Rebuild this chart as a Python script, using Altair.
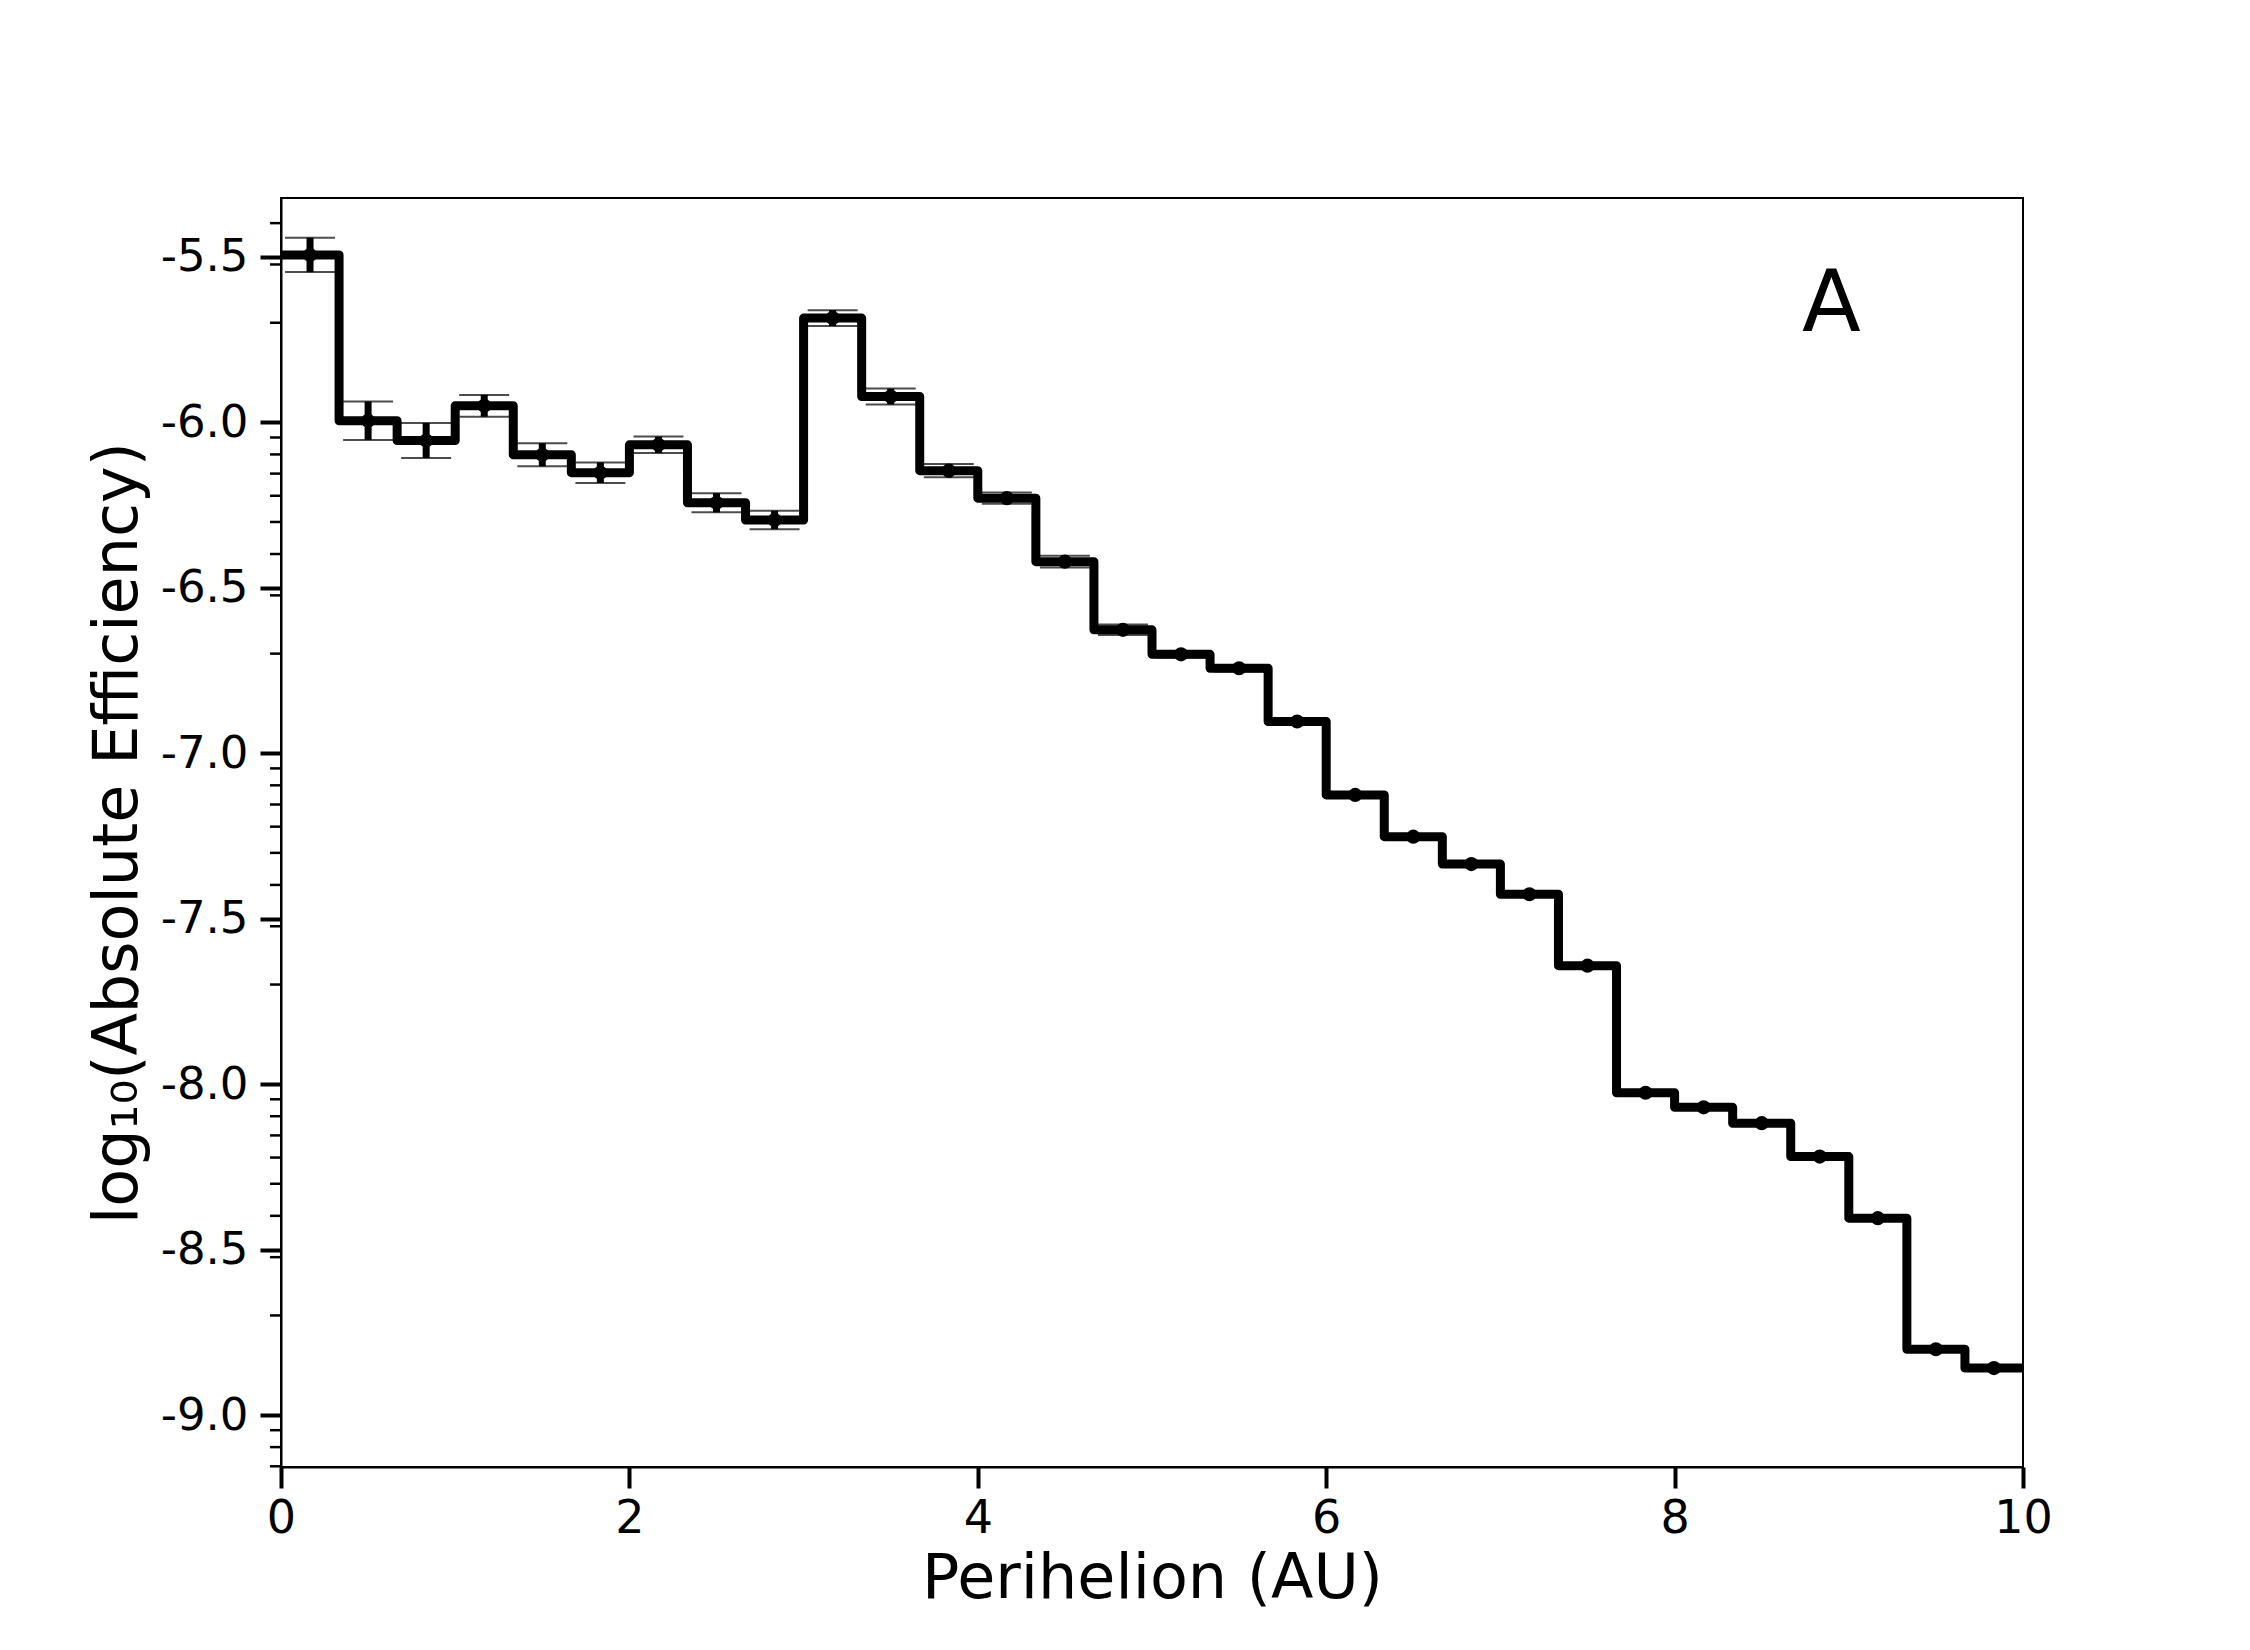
import math
import altair as alt
import pandas as pd

# ---- data ----
n_bins = 30
x_min, x_max = 0.0, 10.0
log_eff = [-5.494, -5.995, -6.055, -5.950, -6.098, -6.152, -6.068, -6.243, -6.295, -5.685,
           -5.922, -6.146, -6.229, -6.421, -6.627, -6.701, -6.743, -6.904, -7.126, -7.252,
           -7.335, -7.426, -7.642, -8.026, -8.070, -8.118, -8.219, -8.405, -8.801, -8.858]
err = [0.052, 0.058, 0.053, 0.033, 0.035, 0.031, 0.025, 0.029, 0.028, 0.024,
       0.024, 0.020, 0.017, 0.018, 0.016, 0.010, 0.010, 0.009, 0.008, 0.008,
       0.008, 0.007, 0.007, 0.006, 0.006, 0.006, 0.006, 0.006, 0.006, 0.006]
x_ticks = [0, 2, 4, 6, 8, 10]
y_ticks = [-9.0, -8.5, -8.0, -7.5, -7.0, -6.5, -6.0, -5.5]
y_domain = [-9.157, -5.322]
panel_label = ["A"]
panel_label_x = [8.9]
panel_label_y = [-5.645]

FONT = "DejaVu Sans"

# ---- tables ----
w = (x_max - x_min) / n_bins
edges = [x_min + i * w for i in range(n_bins + 1)]
step_df = pd.DataFrame({"x": edges, "y": log_eff + [log_eff[-1]]})
pts_df = pd.DataFrame({
    "x": [x_min + (i + 0.5) * w for i in range(n_bins)],
    "y": log_eff,
    "lo": [v - e for v, e in zip(log_eff, err)],
    "hi": [v + e for v, e in zip(log_eff, err)],
})
minor = []
for dec in range(-10, -4):
    for k in range(2, 10):
        v = dec + math.log10(k)
        if y_domain[0] < v < y_domain[1]:
            minor.append(v)
minor_df = pd.DataFrame({"t": minor})
lab_df = pd.DataFrame({"x": panel_label_x, "y": panel_label_y, "t": panel_label})

xscale = alt.Scale(domain=[x_min, x_max], nice=False, zero=False)
yscale = alt.Scale(domain=y_domain, nice=False, zero=False)

xaxis = alt.Axis(values=x_ticks, title="Perihelion (AU)", grid=False, format="d",
                 tickSize=21, tickWidth=4, tickColor="black", domainColor="black", domainWidth=2,
                 labelFontSize=46, labelFont=FONT, labelColor="black", labelPadding=8,
                 labelFlush=False,
                 titleFontSize=62, titleFont=FONT, titleFontWeight="normal", titleColor="black",
                 titlePadding=7)
yaxis = alt.Axis(values=y_ticks, title="log₁₀(Absolute Efficiency)", grid=False,
                 labelExpr="replace(format(datum.value, '.1f'), '\u2212', '-')",
                 tickSize=21, tickWidth=4, tickColor="black", domainColor="black", domainWidth=2,
                 labelFontSize=45, labelFont=FONT, labelColor="black", labelPadding=12,
                 titleFontSize=62, titleFont=FONT, titleFontWeight="normal", titleColor="black",
                 titlePadding=11)

step = alt.Chart(step_df).mark_line(interpolate="step-after", color="black", strokeWidth=9,
                                     strokeJoin="round", clip=True).encode(
    x=alt.X("x:Q", scale=xscale, axis=xaxis),
    y=alt.Y("y:Q", scale=yscale, axis=yaxis),
)

bars = alt.Chart(pts_df).mark_rule(color="black", strokeWidth=7).encode(
    x=alt.X("x:Q", scale=xscale), y=alt.Y("lo:Q", scale=yscale), y2="hi:Q")
cap_lo = alt.Chart(pts_df).mark_tick(color="black", orient="horizontal", size=50, thickness=2).encode(
    x=alt.X("x:Q", scale=xscale), y=alt.Y("lo:Q", scale=yscale))
cap_hi = alt.Chart(pts_df).mark_tick(color="black", orient="horizontal", size=50, thickness=2).encode(
    x=alt.X("x:Q", scale=xscale), y=alt.Y("hi:Q", scale=yscale))
dots = alt.Chart(pts_df).mark_circle(color="black", size=200, opacity=1).encode(
    x=alt.X("x:Q", scale=xscale), y=alt.Y("y:Q", scale=yscale))

minor_ticks = alt.Chart(minor_df).mark_rule(color="black", strokeWidth=2.5).encode(
    y=alt.Y("t:Q", scale=yscale), x=alt.value(-11), x2=alt.value(0))

label = alt.Chart(lab_df).mark_text(font=FONT, fontSize=86, color="black",
                                    align="center", baseline="middle").encode(
    x=alt.X("x:Q", scale=xscale), y=alt.Y("y:Q", scale=yscale), text="t:N")

chart = alt.layer(step, bars, cap_lo, cap_hi, dots, minor_ticks, label).properties(
    width=1742, height=1269,
    autosize=alt.AutoSizeParams(type="none"),
    padding={"left": 281, "top": 198, "right": 227, "bottom": 183},
    background="white",
).configure_view(stroke="black", strokeWidth=2)

chart.save("out.html", embed_options={"renderer": "svg", "actions": False})
